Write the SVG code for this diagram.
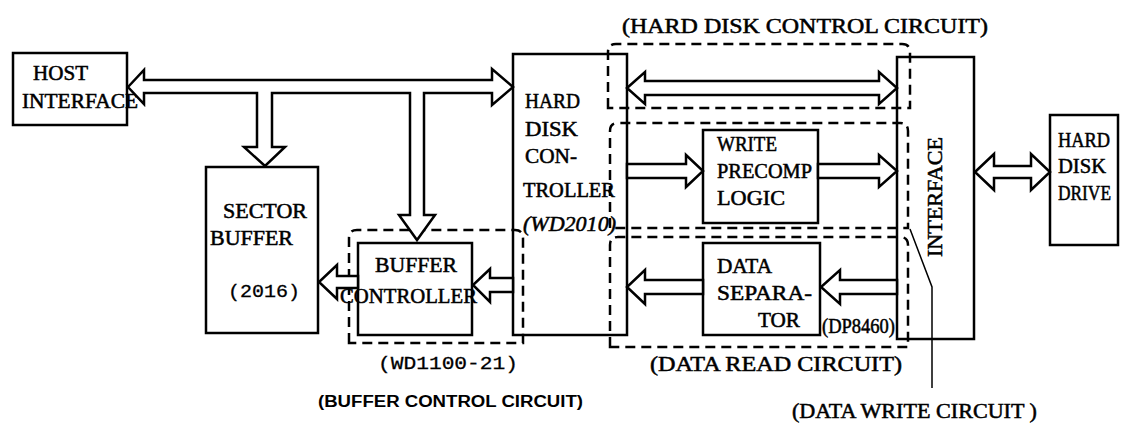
<svg xmlns="http://www.w3.org/2000/svg" width="1135" height="425" viewBox="0 0 1135 425">
<style>
.box{fill:none;stroke:#000;stroke-width:2.5}
.dash{fill:none;stroke:#000;stroke-width:2.5;stroke-dasharray:10 6}
.arr{fill:#fff;stroke:#000;stroke-width:2.5;stroke-linejoin:miter}
.t{font-family:"Liberation Serif",serif;font-size:20px;fill:#000;stroke:#000;stroke-width:0.5}
.m{font-family:"Liberation Mono",monospace;font-size:19px;fill:#000;stroke:#000;stroke-width:0.3}
.b{font-family:"Liberation Sans",sans-serif;font-size:16px;font-weight:bold;fill:#000}
</style>
<rect width="1135" height="425" fill="#fff"/>
<g id="host-interface">
<rect class="box" x="13" y="53" width="114" height="72"/>
<text class="t" x="33" y="80" textLength="55" lengthAdjust="spacingAndGlyphs">HOST</text>
<text class="t" x="22" y="108" textLength="116" lengthAdjust="spacingAndGlyphs">INTERFACE</text>
</g>
<g id="sector-buffer">
<rect class="box" x="206" y="167" width="112" height="166"/>
<text class="t" x="223" y="218" textLength="84" lengthAdjust="spacingAndGlyphs">SECTOR</text>
<text class="t" x="210" y="245" textLength="83" lengthAdjust="spacingAndGlyphs">BUFFER</text>
<text class="m" x="228" y="297" textLength="72" lengthAdjust="spacingAndGlyphs">(2016)</text>
</g>
<g id="buffer-controller">
<rect class="box" x="358" y="243" width="114" height="92"/>
<text class="t" x="375" y="272" textLength="82" lengthAdjust="spacingAndGlyphs">BUFFER</text>
<text class="t" x="340" y="303" textLength="137" lengthAdjust="spacingAndGlyphs">CONTROLLER</text>
</g>
<g id="hard-disk-controller">
<rect class="box" x="513" y="54" width="114" height="281"/>
<text class="t" x="525" y="108" textLength="55" lengthAdjust="spacingAndGlyphs">HARD</text>
<text class="t" x="525" y="136" textLength="53" lengthAdjust="spacingAndGlyphs">DISK</text>
<text class="t" x="525" y="163" textLength="52" lengthAdjust="spacingAndGlyphs">CON-</text>
<text class="t" x="523" y="197" textLength="92" lengthAdjust="spacingAndGlyphs">TROLLER</text>
<text class="t" x="523" y="231" textLength="93" lengthAdjust="spacingAndGlyphs" font-style="italic">(WD2010)</text>
</g>
<g id="write-precomp">
<rect class="box" x="703" y="130" width="115" height="93"/>
<text class="t" x="717" y="151" textLength="60" lengthAdjust="spacingAndGlyphs">WRITE</text>
<text class="t" x="717" y="178" textLength="95" lengthAdjust="spacingAndGlyphs">PRECOMP</text>
<text class="t" x="717" y="205" textLength="68" lengthAdjust="spacingAndGlyphs">LOGIC</text>
</g>
<g id="data-separator">
<rect class="box" x="703" y="243" width="117" height="92"/>
<text class="t" x="717" y="273" textLength="55" lengthAdjust="spacingAndGlyphs">DATA</text>
<text class="t" x="717" y="300" textLength="95" lengthAdjust="spacingAndGlyphs">SEPARA-</text>
<text class="t" x="758" y="327" textLength="42" lengthAdjust="spacingAndGlyphs">TOR</text>
</g>
<g id="interface">
<rect class="box" x="897" y="57" width="77" height="282"/>
<text class="t" transform="translate(942,197) rotate(-90)" text-anchor="middle" font-size="23" textLength="120" lengthAdjust="spacingAndGlyphs">INTERFACE</text>
</g>
<g id="hard-disk-drive">
<rect class="box" x="1050" y="115" width="68" height="130"/>
<text class="t" x="1058" y="147" textLength="52" lengthAdjust="spacingAndGlyphs">HARD</text>
<text class="t" x="1058" y="173" textLength="48" lengthAdjust="spacingAndGlyphs">DISK</text>
<text class="t" x="1058" y="200" textLength="53" lengthAdjust="spacingAndGlyphs">DRIVE</text>
</g>
<g id="groups">
<path class="dash" d="M608,108 L608,52 Q608,44 616,44 L902,44 Q910,44 910,52 L910,108 Z"/>
<path class="dash" d="M610,228 L610,131 Q610,123 618,123 L900,123 Q908,123 908,131 L908,228 Z"/>
<path class="dash" d="M610,347 L610,245 Q610,237 618,237 L900,237 Q908,237 908,245 L908,347 Z"/>
<path class="dash" d="M349,343 L349,238 Q349,230 357,230 L515,230 Q523,230 523,238 L523,343 Z"/>
<text class="t" x="622" y="33" textLength="366" lengthAdjust="spacingAndGlyphs">(HARD DISK CONTROL CIRCUIT)</text>
<text class="t" x="650" y="371" textLength="252" lengthAdjust="spacingAndGlyphs">(DATA READ CIRCUIT)</text>
<text class="t" x="792" y="418" textLength="245" lengthAdjust="spacingAndGlyphs">(DATA WRITE CIRCUIT )</text>
<text class="m" x="378" y="369" textLength="140" lengthAdjust="spacingAndGlyphs">(WD1100-21)</text>
<text class="b" x="318" y="407" textLength="265" lengthAdjust="spacingAndGlyphs">(BUFFER CONTROL CIRCUIT)</text>
<text class="t" x="822" y="333" font-size="13" textLength="73" lengthAdjust="spacingAndGlyphs">(DP8460)</text>
</g>
<g id="connectors">
<path class="arr" d="M128,87 L144,70 L144,80 L492,80 L492,69 L513,87 L492,105 L492,93 L424,93 L424,215 L435,215 L417,240 L399,215 L410,215 L410,93 L272,93 L272,147 L285,147 L265,166 L244,147 L257,147 L257,93 L144,93 L144,104 Z"/>
<path class="arr" d="M627,88 L645,72 L645,81 L879,81 L879,72 L897,88 L879,104 L879,95 L645,95 L645,104 Z"/>
<path class="arr" d="M627,164 L686,164 L686,155 L703,171 L686,187 L686,178 L627,178 Z"/>
<path class="arr" d="M818,164 L879,164 L879,155 L897,171 L879,187 L879,178 L818,178 Z"/>
<path class="arr" d="M897,280 L840,280 L840,270 L821,287 L840,304 L840,294 L897,294 Z"/>
<path class="arr" d="M703,280 L645,280 L645,270 L627,287 L645,304 L645,294 L703,294 Z"/>
<path class="arr" d="M513,278 L490,278 L490,269 L473,285 L490,302 L490,292 L513,292 Z"/>
<path class="arr" d="M358,276 L337,276 L337,265 L319,282 L337,299 L337,288 L358,288 Z"/>
<path class="arr" d="M975,172 L994,154 L994,166 L1031,166 L1031,154 L1050,172 L1031,190 L1031,178 L994,178 L994,190 Z"/>
<path fill="none" stroke="#000" stroke-width="1.5" d="M910,229 L932,287 L932,388"/>
</g>
</svg>
